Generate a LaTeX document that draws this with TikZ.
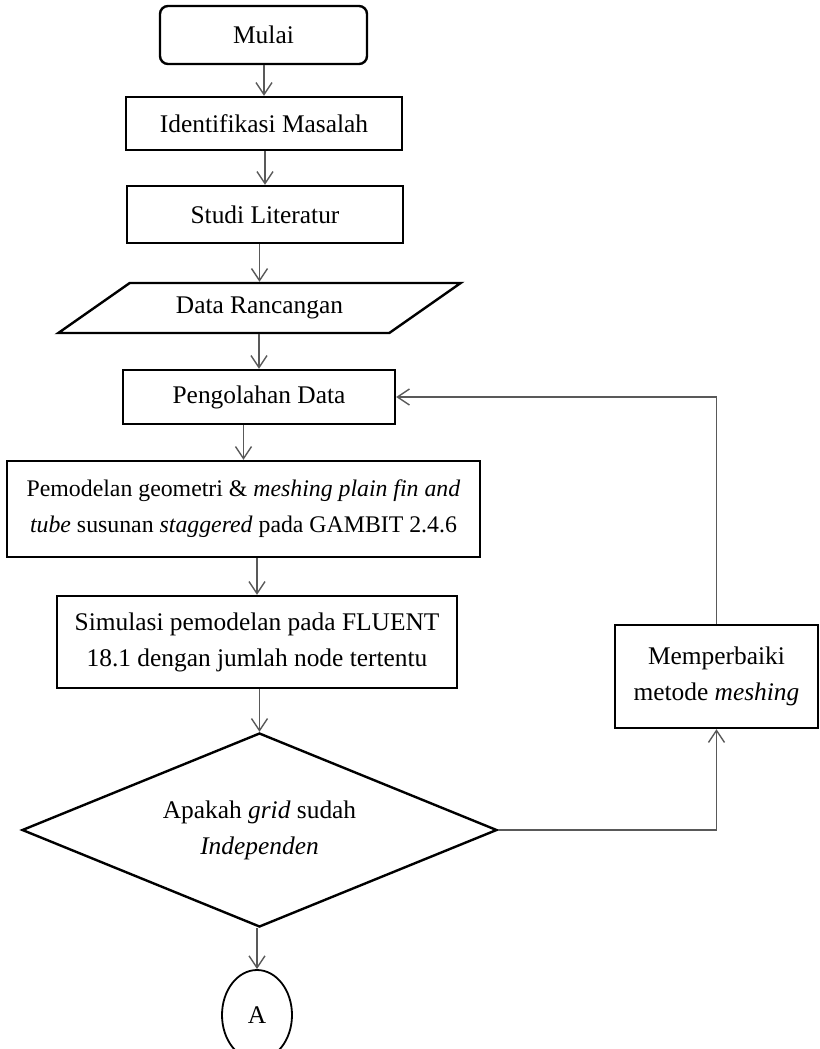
\documentclass[tikz,border=0pt]{standalone}
\usepackage{fontspec}
\setmainfont{Liberation Serif}
\usetikzlibrary{shapes.geometric,arrows.meta}
\begin{document}
\begin{tikzpicture}[x=0.5pt,y=-0.5pt,font=\fontsize{12.7}{18}\selectfont,
	box/.style={draw,line width=1.2pt,align=center,inner sep=2pt},
	flow/.style={draw=black!65,line width=0.7pt,-{Straight Barb[length=6pt,width=8pt]}}]
	\useasboundingbox (0,0) rectangle (819,1049);
	\node[box,rounded corners=4pt,minimum width=103.5pt,minimum height=29pt] (mulai) at (263.5,35) {Mulai};
	\node[box,minimum width=138pt,minimum height=26.5pt] (ident) at (264,123.5) {Identifikasi Masalah};
	\node[box,minimum width=138pt,minimum height=28.5pt] (studi) at (265,214.5) {Studi Literatur};
	\node[box,trapezium,trapezium left angle=32,trapezium right angle=148,trapezium stretches=true,
		minimum width=201.5pt,minimum height=25pt] (data) at (259.5,308) {Data Rancangan};
	\node[box,minimum width=136pt,minimum height=27pt] (olah) at (259,397) {Pengolahan Data};
	\node[box,minimum width=236.5pt,minimum height=48pt,font=\fontsize{11.9}{18}\selectfont] (model) at (243.5,509)
		{Pemodelan geometri \& \textit{meshing plain fin and}\\ \textit{tube} susunan \textit{staggered} pada GAMBIT 2.4.6};
	\node[box,minimum width=200pt,minimum height=46pt] (simul) at (257,642)
		{Simulasi pemodelan pada FLUENT\\ 18.1 dengan jumlah node tertentu};
	\node[box,diamond,aspect=2.45,minimum width=237.5pt,minimum height=97pt,inner sep=0pt] (cek) at (259.5,830)
		{Apakah \textit{grid} sudah\\ \textit{Independen}};
	\node[draw,line width=0.9pt,ellipse,minimum width=35pt,minimum height=45pt] (konA) at (257,1015) {A};
	\node[box,minimum width=101.5pt,minimum height=51.5pt] (perbaiki) at (716.5,676.5)
		{Memperbaiki\\ metode \textit{meshing}};
	\foreach \a/\b in {mulai/ident,ident/studi,studi/data,data/olah,olah/model,model/simul,simul/cek,cek/konA}
		\draw[flow] (\b.north |- \a.south) -- (\b.north);
	\draw[flow] (cek.east) -| (perbaiki.south);
	\draw[flow] (perbaiki.north) |- (olah.east);
\end{tikzpicture}
\end{document}
